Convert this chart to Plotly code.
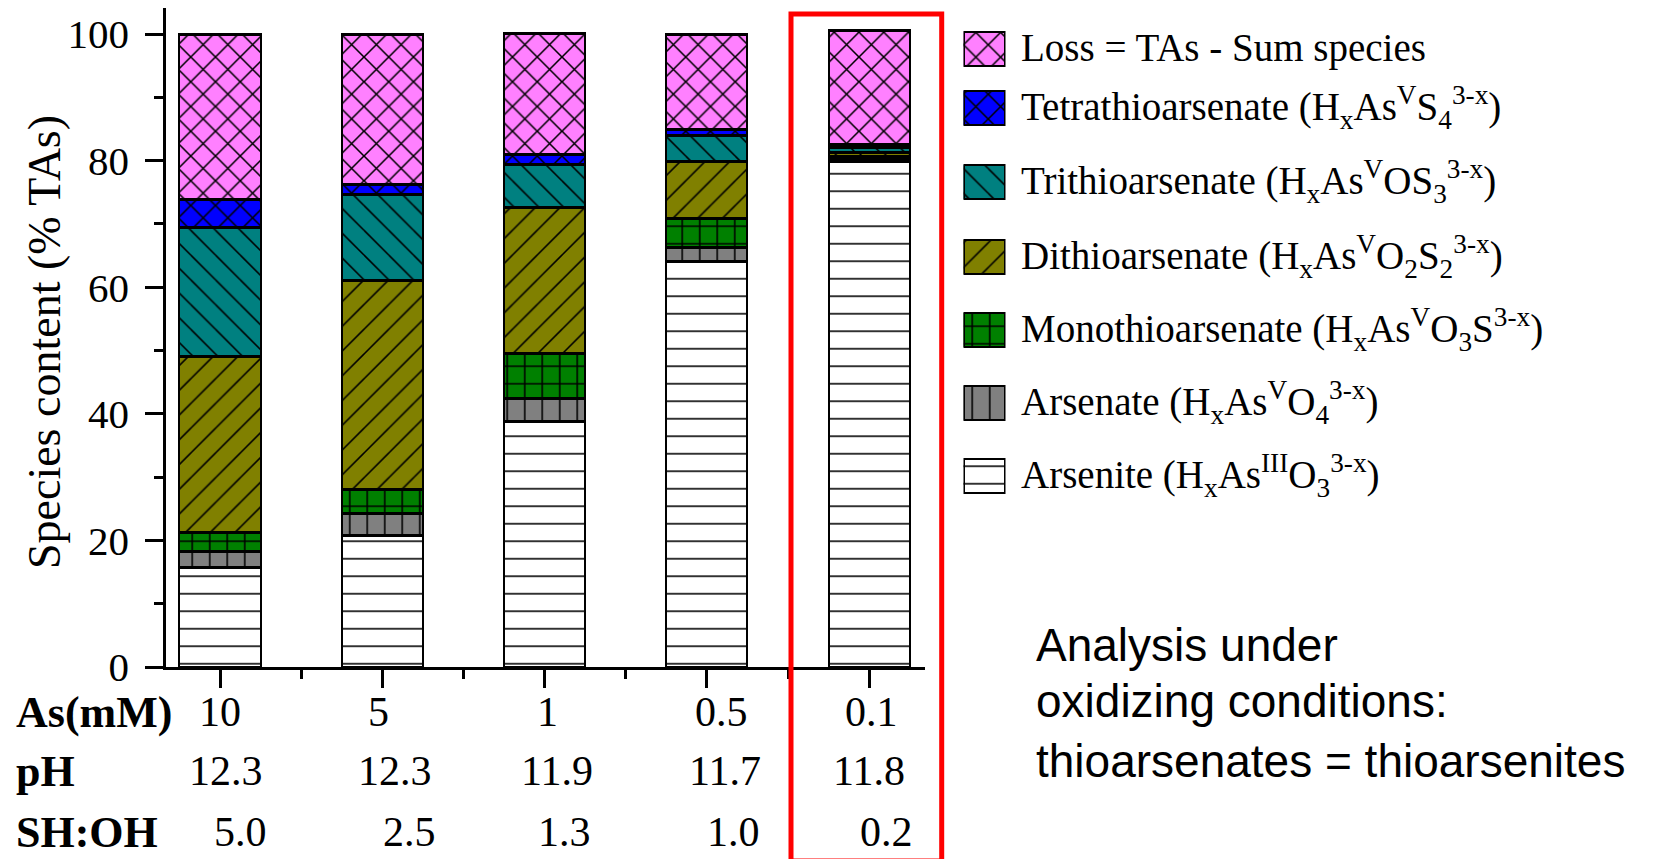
import plotly.graph_objects as go

W, H = 1664, 859

# ---------------- data ----------------
conc = ["10", "5", "1", "0.5", "0.1"]          # As (mM)
ph = ["12.3", "12.3", "11.9", "11.7", "11.8"]
sh_oh = ["5.0", "2.5", "1.3", "1.0", "0.2"]

arsenite = [15.7, 20.7, 38.8, 64.0, 79.9]
arsenate = [2.6, 3.5, 3.6, 2.3, 0.3]
mono = [2.9, 3.9, 7.2, 4.5, 0.5]
di = [27.8, 32.9, 23.0, 9.1, 0.6]
tri = [20.5, 13.6, 6.8, 4.0, 0.8]
tetra = [4.3, 1.7, 1.6, 1.0, 0.4]
loss = [26.2, 23.7, 19.1, 15.1, 18.0]

species = ["Arsenite", "Arsenate", "Mono", "Di", "Tri", "Tetra", "Loss"]
values = [arsenite, arsenate, mono, di, tri, tetra, loss]

legend_text = {
    "Loss": "Loss = TAs - Sum species",
    "Tetra": "Tetrathioarsenate (H<sub>x</sub>As<sup>V</sup>S<sub>4</sub><sup>3-x</sup>)",
    "Tri": "Trithioarsenate (H<sub>x</sub>As<sup>V</sup>OS<sub>3</sub><sup>3-x</sup>)",
    "Di": "Dithioarsenate (H<sub>x</sub>As<sup>V</sup>O<sub>2</sub>S<sub>2</sub><sup>3-x</sup>)",
    "Mono": "Monothioarsenate (H<sub>x</sub>As<sup>V</sup>O<sub>3</sub>S<sup>3-x</sup>)",
    "Arsenate": "Arsenate (H<sub>x</sub>As<sup>V</sup>O<sub>4</sub><sup>3-x</sup>)",
    "Arsenite": "Arsenite (H<sub>x</sub>As<sup>III</sup>O<sub>3</sub><sup>3-x</sup>)",
}
legend_order = ["Loss", "Tetra", "Tri", "Di", "Mono", "Arsenate", "Arsenite"]
note_lines = ["Analysis under", "oxidizing conditions:", "thioarsenates = thioarsenites"]

# ---------------- styles ----------------
colors = {"Loss": "#FF80FF", "Tetra": "#0000FF", "Tri": "#008080", "Di": "#808000",
          "Mono": "#008000", "Arsenate": "#808080", "Arsenite": "#FFFFFF"}
shapes = {"Loss": "x", "Tetra": "x", "Tri": "\\", "Di": "/", "Mono": "+",
          "Arsenate": "|", "Arsenite": "-"}
solid = {"x": 0.17, "+": 0.17, "/": 0.09, "\\": 0.09, "|": 0.09, "-": 0.09}
PSIZE = 17.5
SERIF = "Liberation Serif, Times New Roman, serif"
SANS = "Liberation Sans, Arial, sans-serif"


def marker_for(name):
    return dict(
        color=colors[name],
        line=dict(color="black", width=2.5),
        pattern=dict(shape=shapes[name], size=PSIZE, solidity=solid[shapes[name]],
                     fgcolor="black", bgcolor=colors[name], fillmode="replace"),
    )


fig = go.Figure()
x_idx = list(range(len(conc)))
for name, vals in zip(species, values):
    fig.add_trace(go.Bar(x=x_idx, y=vals, width=0.5, name=name, showlegend=False,
                         marker=marker_for(name), hoverinfo="skip"))

# legend swatches (own small axes, y in pixel-like units)
sw_centers = [48.5, 107.5, 181.5, 256.5, 329.5, 402.5, 476]
for name, yc in zip(legend_order, sw_centers):
    fig.add_trace(go.Bar(x=[1], y=[yc], base=[0], width=[34], orientation="h",
                         xaxis="x2", yaxis="y2", showlegend=False,
                         marker=marker_for(name), hoverinfo="skip"))

annotations = []
for name, yc in zip(legend_order, sw_centers):
    annotations.append(dict(text=legend_text[name], xref="paper", yref="paper",
                            x=1019 / W, y=1 - yc / H, xanchor="left", yanchor="middle",
                            showarrow=False, font=dict(family=SERIF, size=39, color="black")))

# y-axis title
annotations.append(dict(text="Species content (% TAs)", textangle=-90, xref="paper", yref="paper",
                        x=44 / W, y=1 - 342 / H, xanchor="center", yanchor="middle",
                        showarrow=False, font=dict(family=SERIF, size=46, color="black")))

# bottom table
row_y = [712, 771, 832]
row_labels = ["As(mM)", "pH", "SH:OH"]
row_vals = [conc, ph, sh_oh]
row_shift = [[0, -4, 3, 15, 2], [6, 13, 12, 18, 0], [20, 27, 20, 27, 17]]
for lab, vals, yy, shifts in zip(row_labels, row_vals, row_y, row_shift):
    annotations.append(dict(text="<b>%s</b>" % lab, xref="paper", yref="paper",
                            x=14 / W, y=1 - yy / H, xanchor="left", yanchor="middle",
                            showarrow=False, font=dict(family=SERIF, size=44, color="black")))
    for i, v in enumerate(vals):
        annotations.append(dict(text=v, xref="x", yref="paper", x=i, xshift=shifts[i],
                                y=1 - yy / H, xanchor="center", yanchor="middle",
                                showarrow=False, font=dict(family=SERIF, size=42, color="black")))

# side note
for line, yc in zip(note_lines, [645, 701, 761]):
    annotations.append(dict(text=line, xref="paper", yref="paper", x=1034 / W, y=1 - yc / H,
                            xanchor="left", yanchor="middle", showarrow=False,
                            font=dict(family=SANS, size=46, color="black")))

axis_common = dict(showgrid=False, zeroline=False, showline=True, linecolor="black",
                   linewidth=2.5, ticks="outside", tickcolor="black", tickwidth=2.5,
                   ticklen=18, fixedrange=True, automargin=False)

fig.update_layout(
    template="none",
    width=W, height=H, autosize=False,
    margin=dict(l=0, r=0, t=0, b=0, pad=0, autoexpand=False),
    paper_bgcolor="white", plot_bgcolor="rgba(0,0,0,0)",
    barmode="stack", bargap=0,
    xaxis=dict(domain=[166 / W, 925 / W], range=[-0.333, 4.344], anchor="y",
               tickmode="linear", tick0=0, dtick=1, showticklabels=False,
               minor=dict(ticks="outside", ticklen=9, tickwidth=2.5, tickcolor="black",
                          tick0=0, dtick=0.5, showgrid=False),
               **axis_common),
    yaxis=dict(domain=[1 - 667 / H, 1 - 7.5 / H], range=[0, 104.2], anchor="x",
               tickmode="linear", tick0=0, dtick=20, ticklabelstandoff=8,
               tickfont=dict(family=SERIF, size=41, color="black"),
               minor=dict(ticks="outside", ticklen=9, tickwidth=2.5, tickcolor="black",
                          tick0=0, dtick=10, showgrid=False),
               **axis_common),
    xaxis2=dict(domain=[963.5 / W, 1005.5 / W], range=[0, 1], anchor="y2", visible=False,
                fixedrange=True, automargin=False),
    yaxis2=dict(domain=[1 - 500 / H, 1 - 20 / H], range=[500, 20], anchor="x2", visible=False,
                fixedrange=True, automargin=False),
    annotations=annotations,
    shapes=[dict(type="rect", xref="paper", yref="paper", x0=791 / W, x1=941.7 / W,
                 y0=1 - 14 / H, y1=-2 / H, line=dict(color="#FF0000", width=5),
                 fillcolor="rgba(0,0,0,0)", layer="above")],
    showlegend=False,
)

fig.write_html("out.html", config={"responsive": False, "displayModeBar": False})
